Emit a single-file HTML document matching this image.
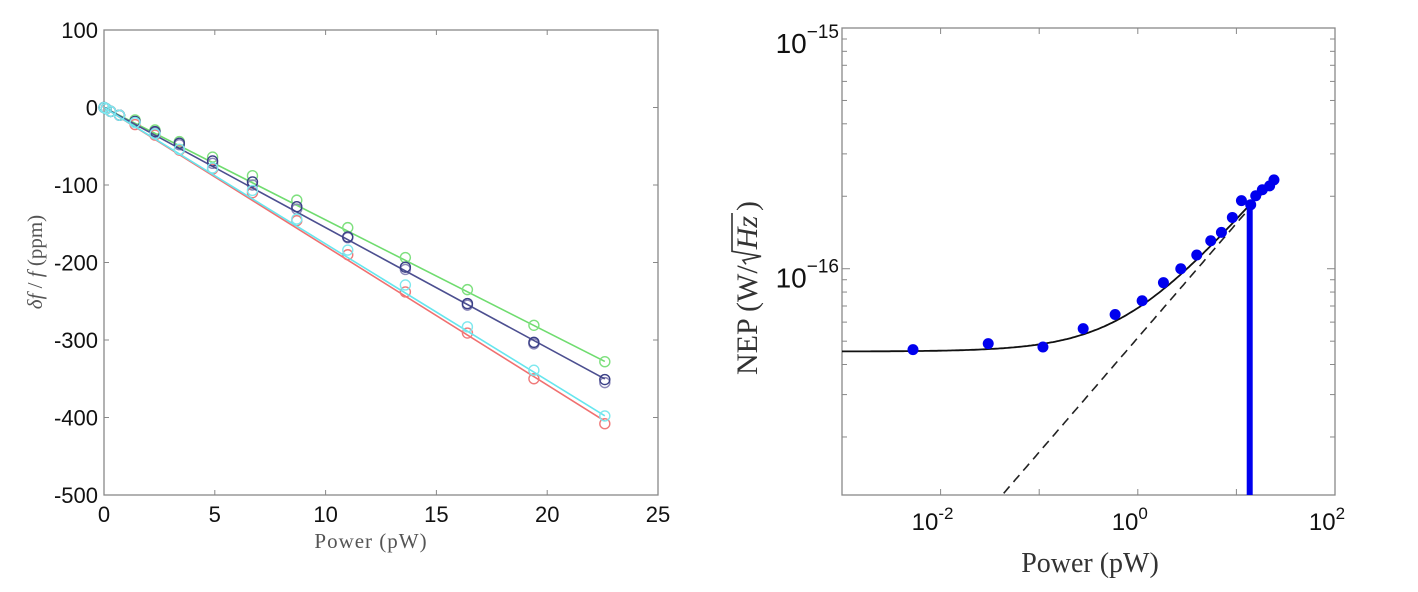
<!DOCTYPE html>
<html><head><meta charset="utf-8"><style>
html,body{margin:0;padding:0;background:#fff;}
svg{display:block;}
</style></head><body>
<svg id="fig" width="1418" height="592" xmlns="http://www.w3.org/2000/svg"></svg>
<script>
// ---- Left chart data ----
const powerLeft = [0,0.1,0.3,0.7,1.4,2.3,3.4,4.9,6.7,8.7,11.0,13.6,16.4,19.4,22.6];
const greenVals = [0,-1.5,-5,-10,-16,-29,-44,-64,-88,-119.5,-155,-193.6,-235,-281,-328];
const navyVals  = [0,-1.5,-5,-10,-18,-31,-46,-69,-96,-128,-167,-206,-253,-303,-351];
const purpleVals= [0,-1.5,-5,-10,-19,-32,-48,-72,-100,-131,-168,-209,-255,-305,-355];
const cyanVals  = [0,-1.5,-5,-10,-19.5,-34,-54,-78,-107,-144,-184,-229,-283,-339,-398];
const redVals   = [0,-1.5,-5,-10,-22,-35.6,-55,-79.5,-110,-146,-190,-238,-291,-350,-408];
const fitSlopes = [-14.5,-15.5,-17.6,-17.9];
const leftXTicks = [0,5,10,15,20,25];
const leftYTicks = [100,0,-100,-200,-300,-400,-500];
// ---- Right chart data (log10 values) ----
const nepLogP = [-2.28,-1.517,-0.962,-0.554,-0.23,0.044,0.26,0.436,0.598,0.74,0.848,0.959,1.051,1.145,1.196,1.263,1.337,1.381];
const nepLogN = [-16.336,-16.311,-16.325,-16.249,-16.19,-16.133,-16.058,-16.0,-15.943,-15.884,-15.849,-15.787,-15.717,-15.734,-15.697,-15.672,-15.656,-15.631];
const vlineLogP = [1.135];
const rightXTickExp = [-2,0,2];
const rightYTickExp = [-15,-16];
const plateauLog = [-16.344];
const slopeLog = [0.475];
const dashAnchor = [-1.371,-16.938];

const NS="http://www.w3.org/2000/svg";
const svg=document.getElementById('fig');
function mk(tag,attrs,parent){const e=document.createElementNS(NS,tag);for(const k in attrs)e.setAttribute(k,attrs[k]);(parent||svg).appendChild(e);return e;}

// ===== Left chart =====
const L={x0:104,x1:658,y0:30,y1:495};
const lx=p=>L.x0+p*(L.x1-L.x0)/25;
const ly=v=>L.y0+(100-v)*(L.y1-L.y0)/600;
const gL=mk('g',{});


const frameL=mk('rect',{x:L.x0,y:L.y0,width:L.x1-L.x0,height:L.y1-L.y0,fill:'none',stroke:'#888','stroke-width':1.3},gL);


leftXTicks.forEach(t=>{
  mk('line',{x1:lx(t),x2:lx(t),y1:L.y1,y2:L.y1-5,stroke:'#888'},gL);
  mk('line',{x1:lx(t),x2:lx(t),y1:L.y0,y2:L.y0+5,stroke:'#888'},gL);
  const tx=mk('text',{x:lx(t),y:L.y1+27,'text-anchor':'middle','font-size':22,'font-family':'Liberation Sans, sans-serif',fill:'#111'},gL);
  tx.textContent=t;
  
  
});
leftYTicks.forEach(t=>{
  mk('line',{x1:L.x0,x2:L.x0+5,y1:ly(t),y2:ly(t),stroke:'#888'},gL);
  mk('line',{x1:L.x1,x2:L.x1-5,y1:ly(t),y2:ly(t),stroke:'#888'},gL);
  const tx=mk('text',{x:L.x0-6,y:ly(t)+8,'text-anchor':'end','font-size':22,'font-family':'Liberation Sans, sans-serif',fill:'#111'},gL);
  tx.textContent=t;
  
  
});
const series=[
 {v:greenVals,c:'#7ee07e',lc:'#6fdc6f',s:fitSlopes[0],n:'green'},
 {v:redVals,c:'#f07a7a',lc:'#f07070',s:fitSlopes[3],n:'red'},
 {v:purpleVals,c:'#8a86b8',lc:null,s:null,n:'purple'},
 {v:navyVals,c:'#3a3f86',lc:'#4c4f90',s:fitSlopes[1],n:'navy'},
 {v:cyanVals,c:'#7ee8ee',lc:'#66e6ee',s:fitSlopes[2],n:'cyan'}
];
series.forEach(sr=>{
  if(sr.lc){
    const pmax=powerLeft[powerLeft.length-1];
    const ln=mk('line',{x1:lx(0),y1:ly(0),x2:lx(pmax),y2:ly(sr.s*pmax),stroke:sr.lc,'stroke-width':1.6},gL);
    
    
  }
  powerLeft.forEach((p,i)=>{
    const c=mk('circle',{cx:lx(p),cy:ly(sr.v[i]),r:5,fill:'none',stroke:sr.c,'stroke-width':1.4},gL);
    
    
  });
});
const xlL=mk('text',{x:(L.x0+L.x1)/2-10,y:548,'text-anchor':'middle','font-size':21,'font-family':'Liberation Serif, serif',fill:'#555','letter-spacing':'1'},gL);
xlL.textContent='Power (pW)';


const ylL=mk('text',{x:0,y:0,'text-anchor':'middle','font-size':21,'font-family':'Liberation Serif, serif',fill:'#555',transform:'translate(42,262) rotate(-90)'},gL);
ylL.innerHTML='<tspan font-style="italic">δf</tspan> / <tspan font-style="italic">f</tspan> (ppm)';



// ===== Right chart =====
const R={x0:842,x1:1335,y0:28,y1:495,lx0:-3,lx1:2,ly0:-16.94,ly1:-15};
const rx=l=>R.x0+(l-R.lx0)*(R.x1-R.x0)/(R.lx1-R.lx0);
const ry=l=>R.y1-(l-R.ly0)*(R.y1-R.y0)/(R.ly1-R.ly0);
const gR=mk('g',{});


const frameR=mk('rect',{x:R.x0,y:R.y0,width:R.x1-R.x0,height:R.y1-R.y0,fill:'none',stroke:'#888','stroke-width':1.3},gR);


for(let e=R.lx0;e<=R.lx1;e++){
  mk('line',{x1:rx(e),x2:rx(e),y1:R.y1,y2:R.y1-6,stroke:'#888'},gR);
  mk('line',{x1:rx(e),x2:rx(e),y1:R.y0,y2:R.y0+6,stroke:'#888'},gR);
}
rightXTickExp.forEach(e=>{
  const t=mk('text',{x:rx(e)-8,y:R.y1+35,'text-anchor':'middle','font-size':24,'font-family':'Liberation Sans, sans-serif',fill:'#111'},gR);
  t.innerHTML='10<tspan dy="-11" font-size="17">'+e+'</tspan>';
  
  
});
for(let d=-17;d<=-15;d++){
  for(let m=1;m<10;m++){
    const l=d+Math.log10(m);
    if(l<R.ly0-1e-9||l>R.ly1+1e-9)continue;
    const len=m===1?8:5;
    mk('line',{x1:R.x0,x2:R.x0+len,y1:ry(l),y2:ry(l),stroke:'#888'},gR);
    mk('line',{x1:R.x1,x2:R.x1-len,y1:ry(l),y2:ry(l),stroke:'#888'},gR);
  }
}
rightYTickExp.forEach(e=>{
  const t=mk('text',{x:R.x0-3,y:Math.max(ry(e)+19,53),'text-anchor':'end','font-size':28,'font-family':'Liberation Sans, sans-serif',fill:'#111'},gR);
  t.innerHTML='10<tspan dy="-15" font-size="19">'+String(e).replace('-','\u2212')+'</tspan>';
  
  
});
const dashLog=l=>dashAnchor[1]+slopeLog[0]*(l-dashAnchor[0]);
let dPts=[],sPts=[];
for(let l=R.lx0;l<=1.42;l+=0.02){
  const dl=dashLog(l);
  if(dl>=R.ly0) dPts.push(rx(l).toFixed(1)+','+ry(dl).toFixed(1));
  const s=0.5*Math.log10(Math.pow(10,2*plateauLog[0])+Math.pow(10,2*dl));
  sPts.push(rx(l).toFixed(1)+','+ry(s).toFixed(1));
}
const dl=mk('polyline',{points:dPts.join(' '),fill:'none',stroke:'#222','stroke-width':1.6,'stroke-dasharray':'9,6'},gR);


const sl=mk('polyline',{points:sPts.join(' '),fill:'none',stroke:'#111','stroke-width':1.8},gR);


vlineLogP.forEach(v=>{
  const i=nepLogP.reduce((b,p,k)=>Math.abs(p-v)<Math.abs(nepLogP[b]-v)?k:b,0);
  const vl=mk('line',{x1:rx(v),x2:rx(v),y1:ry(nepLogN[i]),y2:R.y1,stroke:'#0000ee','stroke-width':6},gR);
  
  
});
nepLogP.forEach((p,i)=>{
  const c=mk('circle',{cx:rx(p),cy:ry(nepLogN[i]),r:5.5,fill:'#0000ee'},gR);
  
  
});
const xlR=mk('text',{x:1090,y:572,'text-anchor':'middle','font-size':28,'font-family':'Liberation Serif, serif',fill:'#333'},gR);
xlR.textContent='Power (pW)';


const ylR=mk('g',{transform:'translate(757,262) rotate(-90)'},gR);


const xs=-113;
const t1=mk('text',{x:xs,y:0,'font-size':30,'font-family':'Liberation Serif, serif',fill:'#333'},ylR);
t1.textContent='NEP (W/';
const w1=t1.getComputedTextLength();
const rad0=xs+w1+1;
const hzX=rad0+15;
const t2=mk('text',{x:hzX,y:0,'font-size':30,'font-style':'italic','font-family':'Liberation Serif, serif',fill:'#333'},ylR);
t2.textContent='Hz';
const w2=t2.getComputedTextLength();
const barEnd=hzX+w2+3;
mk('path',{d:'M '+rad0+' -11 L '+(rad0+4)+' -14 L '+(rad0+8)+' 4 L '+(rad0+13)+' -25 L '+barEnd+' -25',fill:'none',stroke:'#333','stroke-width':1.6},ylR);
const t3=mk('text',{x:barEnd+2,y:0,'font-size':30,'font-family':'Liberation Serif, serif',fill:'#333'},ylR);
t3.textContent=')';
</script>
</body></html>
